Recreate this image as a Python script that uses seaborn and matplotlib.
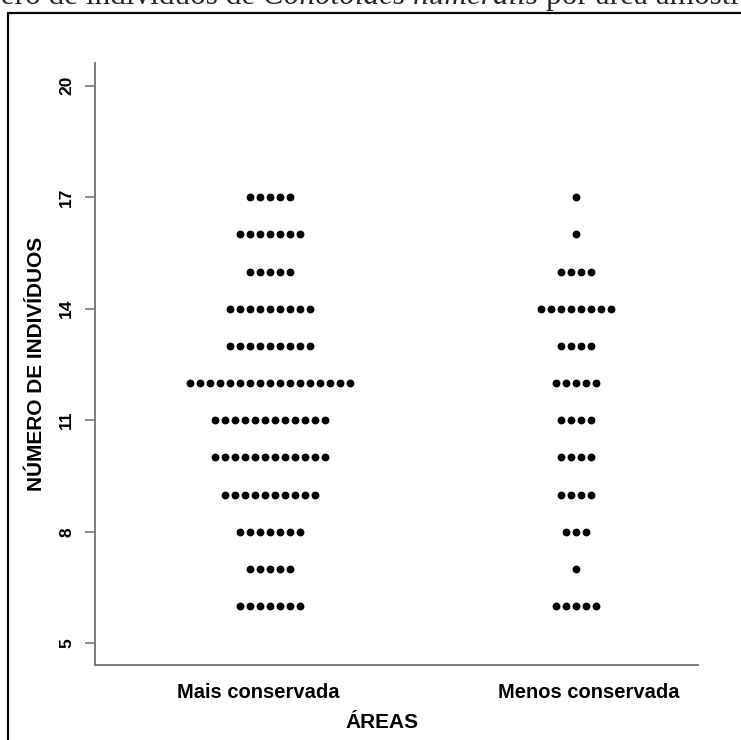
import numpy as np
import pandas as pd
import matplotlib
matplotlib.use("Agg")
import matplotlib.pyplot as plt
import seaborn as sns
from matplotlib.patches import Rectangle
from matplotlib.transforms import ScaledTranslation

# ---- data: number of individuals per sample, tallied by value ----
areas = ["Mais conservada", "Menos conservada"]
individuos = [6, 7, 8, 9, 10, 11, 12, 13, 14, 15, 16, 17]
contagem_mais = [7, 5, 7, 10, 12, 12, 17, 9, 9, 5, 7, 5]
contagem_menos = [5, 1, 3, 4, 4, 4, 5, 4, 8, 4, 1, 1]
y_ticks = [5, 8, 11, 14, 17, 20]

titulo_ini = "Número de indivíduos de"
titulo_especie = "Conotoides numeralis"
titulo_fim = "por área amostrada"

# ---- expand tallies into observations and stack equal values side by side ----
DOT_STEP = 0.0327  # horizontal spacing between stacked dots (x data units)
rows = []
for i, (area, counts) in enumerate(zip(areas, [contagem_mais, contagem_menos])):
    for value, n in zip(individuos, counts):
        for k in range(n):
            rows.append({"area": area,
                         "individuos": value,
                         "pos": i + (k - (n - 1) / 2) * DOT_STEP})
df = pd.DataFrame(rows)

sns.set_theme(style="white")
plt.rcParams["font.family"] = ["Liberation Sans", "DejaVu Sans"]

W, H = 741, 740
fig = plt.figure(figsize=(W / 100, H / 100), dpi=100)
fig.patch.set_facecolor("white")

# outer frame (runs off the right and bottom edges)
fig.patches.append(Rectangle((8 / W, -0.2), 1.5, 0.2 + 1 - 13 / H,
                             transform=fig.transFigure, fill=False,
                             edgecolor="black", linewidth=1.6))

ax = fig.add_axes([95 / W, 75 / H, 603 / W, 602 / H])
sns.scatterplot(data=df, x="pos", y="individuos", ax=ax, color="black",
                s=32, linewidth=0, legend=False)

ax.set_xlim(-0.572, 1.399)
ax.set_ylim(4.416, 20.61)

for side in ["top", "right"]:
    ax.spines[side].set_visible(False)
for side in ["left", "bottom"]:
    ax.spines[side].set_color("#707070")
    ax.spines[side].set_linewidth(1.3)

ax.set_yticks(y_ticks)
ax.set_yticklabels([str(t) for t in y_ticks], rotation=90, va="center",
                   fontsize=12.5, fontweight="bold", color="black")
ax.tick_params(axis="y", length=7, width=1.1, color="#707070", pad=8, left=True)

ax.set_xticks([0, 1])
ax.set_xticklabels(areas, fontsize=14.5, fontweight="bold", color="black")
ax.tick_params(axis="x", length=0, pad=13)
# category names sit slightly further apart than the dot columns
for lab, dx in zip(ax.get_xticklabels(), [-12, 13]):
    lab.set_transform(lab.get_transform() + ScaledTranslation(dx / 100, 0, fig.dpi_scale_trans))

ax.set_xlabel("ÁREAS", fontsize=15, fontweight="bold", color="black")
ax.xaxis.set_label_coords((382 - 95) / 603, (665 - 722) / 602)
ax.xaxis.label.set_va("center")
ax.set_ylabel("NÚMERO DE INDIVÍDUOS", fontsize=15, fontweight="bold", color="black")
ax.yaxis.set_label_coords((37 - 95) / 603, 0.5)
ax.yaxis.label.set_va("center")

# caption line, partly cut by the top edge
fig.canvas.draw()
renderer = fig.canvas.get_renderer()
base_y = 1 - 4 / H
fs = 22.5
space = 0.25 * fs / 72 * 100
t1 = fig.text((263 - space) / W, base_y, titulo_ini,
              ha="right", va="baseline", fontsize=fs, family="Liberation Serif")
t2 = fig.text(263 / W, base_y, titulo_especie, ha="left", va="baseline",
              fontsize=fs, family="Liberation Serif", style="italic")
ext = t2.get_window_extent(renderer)
t3 = fig.text((ext.x1 + space) / W, base_y, titulo_fim,
              ha="left", va="baseline", fontsize=fs, family="Liberation Serif")

fig.savefig("out.png", dpi=100)
